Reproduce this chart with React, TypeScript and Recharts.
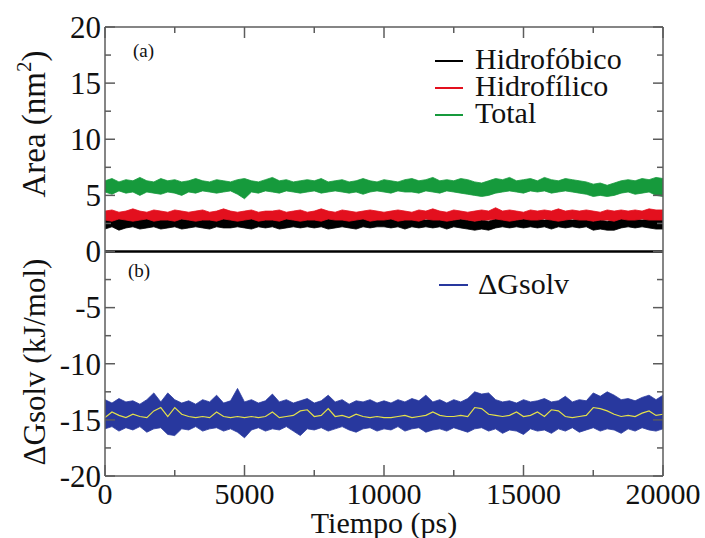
import React from 'react';
import { ComposedChart, Area, Line, XAxis, YAxis, ReferenceLine } from 'recharts';

const time = [0,250,500,750,1000,1250,1500,1750,2000,2250,2500,2750,3000,3250,3500,3750,4000,4250,4500,4750,5000,5250,5500,5750,6000,6250,6500,6750,7000,7250,7500,7750,8000,8250,8500,8750,9000,9250,9500,9750,10000,10250,10500,10750,11000,11250,11500,11750,12000,12250,12500,12750,13000,13250,13500,13750,14000,14250,14500,14750,15000,15250,15500,15750,16000,16250,16500,16750,17000,17250,17500,17750,18000,18250,18500,18750,19000,19250,19500,19750,20000];

const greenHi = [6.3,6.5,6.2,6.4,6.3,6.6,6.3,6.2,6.5,6.3, 6.4,6.2,6.3,6.5,6.3,6.2,6.4,6.3,6.2,6.4, 6.5,6.3,6.2,6.4,6.6,6.3,6.4,6.2,6.3,6.4, 6.3,6.5,6.2,6.3,6.4,6.2,6.3,6.5,6.3,6.2, 6.4,6.3,6.2,6.4,6.5,6.3,6.4,6.6,6.3,6.4, 6.3,6.5,6.4,6.2,6.1,6.3,6.5,6.4,6.6,6.3, 6.4,6.5,6.3,6.6,6.4,6.3,6.5,6.4,6.3,6.2, 6.0,6.1,5.9,6.1,6.3,6.4,6.3,6.5,6.4,6.6, 6.5];
const greenLo = [5.3,5.1,5.4,5.2,5.3,5.0,5.3,5.2,5.1,5.3, 5.2,5.0,5.3,5.2,5.4,5.3,5.2,5.3,5.4,5.1, 4.7,5.3,5.2,5.4,5.3,5.2,5.4,5.3,5.2,5.3, 5.4,5.2,5.3,5.4,5.3,5.2,5.3,5.1,5.3,5.4, 5.3,5.2,5.4,5.3,5.3,5.2,5.4,5.3,5.2,5.4, 5.3,5.2,5.1,5.0,4.9,5.0,5.2,5.3,5.4,5.3, 5.2,5.4,5.3,5.4,5.2,5.3,5.4,5.3,5.2,5.1, 4.9,5.0,4.9,5.0,5.2,5.3,5.1,5.2,5.3,5.0, 4.9];
const redHi = [3.6,3.7,3.5,3.6,3.8,3.6,3.5,3.7,3.6,3.5, 3.7,3.6,3.5,3.6,3.7,3.5,3.6,3.8,3.6,3.5, 3.6,3.7,3.5,3.6,3.6,3.7,3.5,3.6,3.7,3.5, 3.6,3.8,3.6,3.5,3.7,3.6,3.5,3.6,3.7,3.6, 3.5,3.6,3.7,3.6,3.5,3.7,3.6,3.8,3.6,3.5, 3.7,3.6,3.5,3.6,3.7,3.6,3.9,3.6,3.7,3.6, 3.5,3.7,3.6,3.7,3.6,3.8,3.6,3.7,3.6,3.7, 3.6,3.5,3.7,3.6,3.7,3.6,3.7,3.6,3.8,3.7, 3.7];
const redLo = [2.8,2.7,2.9,2.8,2.7,2.8,2.9,2.7,2.8,2.8, 2.7,2.9,2.8,2.7,2.8,2.8,2.7,2.9,2.8,2.7, 2.8,2.9,2.7,2.8,2.8,2.7,2.9,2.8,2.7,2.8, 2.8,2.7,2.9,2.8,2.8,2.7,2.8,2.9,2.7,2.8, 2.8,2.9,2.7,2.8,2.8,2.7,2.9,2.8,2.8,2.7, 2.8,2.9,2.8,2.7,2.8,2.8,2.9,2.8,2.7,2.8, 2.9,2.8,2.8,2.9,2.8,2.7,2.8,2.9,2.8,2.8, 2.7,2.8,2.8,2.7,2.9,2.8,2.8,2.9,2.8,2.8, 2.8];
const blackHi = [2.9,2.8,3.0,2.9,2.8,2.9,3.0,2.9,2.8,2.9, 3.0,2.9,2.8,2.9,3.0,2.8,2.9,2.9,3.0,2.8, 2.9,3.0,2.9,2.8,2.9,2.9,3.0,2.8,2.9,3.0, 2.9,2.8,2.9,3.0,2.9,2.8,2.9,3.0,2.9,2.8, 2.9,3.0,2.8,2.9,2.9,3.0,2.8,2.9,3.0,2.9, 2.8,2.9,2.8,2.7,2.8,2.7,2.9,3.0,2.9,2.8, 2.9,3.0,2.9,2.8,2.9,3.0,2.9,2.8,2.9,3.0, 2.7,2.8,2.7,2.8,2.9,3.0,2.9,2.8,2.9,2.8, 2.9];
const blackLo = [2.0,2.2,1.9,2.1,2.2,2.0,2.1,2.2,2.0,2.1, 2.2,2.0,2.1,2.2,2.1,2.0,2.2,2.1,2.1,2.2, 2.1,2.0,2.2,2.1,2.2,2.0,2.1,2.2,2.1,2.2, 2.1,2.2,2.0,2.1,2.2,2.1,2.0,2.2,2.1,2.2, 2.2,2.1,2.2,2.0,2.2,2.1,2.2,2.1,2.2,2.0, 2.2,2.1,2.0,1.9,2.0,1.9,2.1,2.2,2.1,2.2, 2.1,2.2,2.1,2.2,2.0,2.2,2.1,2.2,2.1,2.2, 1.9,2.0,1.9,1.9,2.1,2.2,2.1,2.2,2.1,2.0, 2.0];
const blueHi = [-13.2,-13.5,-13.1,-13.4,-13.3,-13.6,-13.2,-12.6,-13.4,-12.6, -13.2,-13.5,-13.3,-13.6,-13.2,-13.4,-12.8,-13.5,-13.3,-12.2, -13.4,-13.2,-13.5,-13.3,-12.7,-13.4,-13.2,-13.5,-13.3,-13.1, -13.5,-13.3,-12.8,-13.4,-13.2,-13.6,-13.3,-13.4,-13.2,-13.5, -13.3,-13.5,-13.2,-13.4,-13.1,-13.3,-12.8,-13.4,-13.2,-13.5, -13.2,-13.4,-13.1,-12.5,-12.7,-12.6,-13.2,-13.4,-13.3,-13.5, -13.2,-13.4,-13.3,-13.1,-13.4,-13.3,-12.9,-13.4,-13.2,-13.3, -12.6,-12.9,-12.5,-12.8,-13.2,-13.1,-13.3,-13.0,-12.8,-13.2, -12.8];
const blueLo = [-15.8,-15.6,-16.0,-15.7,-15.9,-15.6,-16.1,-15.8,-15.7,-16.3, -16.4,-15.8,-15.9,-15.6,-16.0,-15.8,-15.7,-16.0,-15.8,-16.1, -16.6,-15.9,-15.7,-16.0,-15.8,-15.9,-15.6,-16.0,-16.4,-15.8, -15.9,-15.7,-16.0,-15.8,-15.6,-15.9,-16.1,-15.8,-15.7,-16.0, -15.8,-15.9,-15.6,-16.0,-15.8,-15.7,-16.1,-15.9,-15.8,-16.0, -15.7,-15.9,-16.1,-15.8,-15.7,-16.0,-15.8,-16.2,-15.9,-16.0, -16.3,-15.8,-16.0,-15.9,-16.2,-15.8,-16.0,-15.7,-16.1,-15.9, -15.7,-16.0,-15.8,-15.9,-16.2,-15.8,-16.0,-15.7,-15.9,-16.0, -15.8];
const runningAvg = [-14.8,-14.3,-14.6,-14.8,-14.5,-14.7,-14.8,-14.2,-13.9,-14.7, -13.9,-14.5,-14.7,-14.8,-14.7,-14.8,-14.3,-14.7,-14.8,-14.7, -14.8,-14.7,-14.8,-14.7,-14.3,-14.8,-14.7,-14.6,-14.2,-14.1, -14.7,-14.6,-14.0,-14.7,-14.6,-14.8,-14.5,-14.7,-14.8,-14.7, -14.8,-14.8,-14.7,-14.6,-14.8,-14.7,-14.6,-14.3,-14.6,-14.7, -14.7,-14.6,-14.7,-13.9,-14.0,-14.5,-14.6,-14.7,-14.6,-14.3, -14.7,-14.6,-14.3,-14.7,-14.1,-14.2,-14.7,-14.8,-14.7,-14.6, -13.9,-14.0,-14.2,-14.5,-14.7,-14.6,-14.7,-14.4,-14.2,-14.6, -14.5];

const xTicks = [0,2500,5000,7500,10000,12500,15000,17500,20000];
const yTicks = [-20,-17.5,-15,-12.5,-10,-7.5,-5,-2.5,0,2.5,5,7.5,10,12.5,15,17.5,20];

const data = time.map((t, i) => ({
  t,
  black: [blackLo[i], blackHi[i]],
  red: [redLo[i], redHi[i]],
  green: [greenLo[i], greenHi[i]],
  blue: [blueLo[i], blueHi[i]],
  avg: runningAvg[i],
}));

const FRAME = '#5c5c5c';
const FONT = "'Liberation Serif', 'DejaVu Serif', serif";
const FS = { fontFamily: FONT };
const BLACK = '#000000';
const RED = '#e3101e';
const GREEN = '#169a3c';
const BLUE = '#28389e';
const YELLOW = '#e4e04a';

const isMajorY = (v: number) => Math.abs(v % 5) < 1e-9;
const isMajorX = (v: number) => v % 5000 === 0;

const LeftTick = (p: any) => {
  const v = p.payload.value;
  const major = isMajorY(v);
  return (
    <g>
      <line x1={p.x} x2={p.x + (major ? 10 : 6)} y1={p.y} y2={p.y} stroke={FRAME} strokeWidth={1.5} />
      {major && (
        <text x={p.x - 4} y={p.y} dy="0.35em" textAnchor="end" style={FS} fontSize={31} fill="#111">
          {String(v)}
        </text>
      )}
    </g>
  );
};

const RightTick = (p: any) => {
  const v = p.payload.value;
  const major = isMajorY(v);
  return <line x1={p.x} x2={p.x - (major ? 10 : 6)} y1={p.y} y2={p.y} stroke={FRAME} strokeWidth={1.5} />;
};

const BottomTick = (p: any) => {
  const v = p.payload.value;
  const major = isMajorX(v);
  return (
    <g>
      <line x1={p.x} x2={p.x} y1={p.y} y2={p.y - (major ? 11 : 6)} stroke={FRAME} strokeWidth={1.5} />
      {major && (
        <text x={p.x} y={p.y + 28} textAnchor="middle" style={FS} fontSize={30} fill="#111">
          {String(v)}
        </text>
      )}
    </g>
  );
};

const TopTick = (p: any) => {
  const v = p.payload.value;
  const major = isMajorX(v);
  return <line x1={p.x} x2={p.x} y1={p.y} y2={p.y + (major ? 11 : 6)} stroke={FRAME} strokeWidth={1.5} />;
};

export default function App() {
  return (
    <div style={{ position: 'absolute', left: 0, top: 0, width: 705, height: 538, background: '#fff' }}>
      <ComposedChart width={705} height={538} data={data} margin={{ top: 26, right: 41, bottom: 32, left: 45 }}>
        <XAxis
          dataKey="t" type="number" domain={[0, 20000]} ticks={xTicks} interval={0}
          allowDataOverflow height={30} tickSize={0} tickMargin={0}
          axisLine={{ stroke: FRAME, strokeWidth: 1.5 }} tickLine={false} tick={<BottomTick />}
        />
        <XAxis
          xAxisId="top" orientation="top" dataKey="t" type="number" domain={[0, 20000]} ticks={xTicks} interval={0}
          allowDataOverflow height={1} tickSize={0} tickMargin={0}
          axisLine={{ stroke: FRAME, strokeWidth: 1.5 }} tickLine={false} tick={<TopTick />}
        />
        <YAxis
          type="number" domain={[-20, 20]} ticks={yTicks} interval={0} allowDataOverflow
          width={60} tickSize={0} tickMargin={0}
          axisLine={{ stroke: FRAME, strokeWidth: 1.5 }} tickLine={false} tick={<LeftTick />}
        />
        <YAxis
          yAxisId="r" orientation="right" type="number" domain={[-20, 20]} ticks={yTicks} interval={0} allowDataOverflow
          width={1} tickSize={0} tickMargin={0}
          axisLine={{ stroke: FRAME, strokeWidth: 1.5 }} tickLine={false} tick={<RightTick />}
        />
        <Area type="linear" dataKey="black" stroke={BLACK} strokeWidth={0.8} fill={BLACK} fillOpacity={1} isAnimationActive={false} dot={false} activeDot={false} />
        <Area type="linear" dataKey="red" stroke={RED} strokeWidth={0.8} fill={RED} fillOpacity={1} isAnimationActive={false} dot={false} activeDot={false} />
        <Area type="linear" dataKey="green" stroke={GREEN} strokeWidth={0.8} fill={GREEN} fillOpacity={1} isAnimationActive={false} dot={false} activeDot={false} />
        <Area type="linear" dataKey="blue" stroke={BLUE} strokeWidth={0.8} fill={BLUE} fillOpacity={1} isAnimationActive={false} dot={false} activeDot={false} />
        <Line type="linear" dataKey="avg" stroke={YELLOW} strokeWidth={1.2} dot={false} activeDot={false} isAnimationActive={false} />
        <ReferenceLine y={0} stroke="#000" strokeWidth={2.5} />
      </ComposedChart>
      <svg width={705} height={538} style={{ position: 'absolute', left: 0, top: 0, pointerEvents: 'none' }}>
        <g style={FS} fill="#111">
          <text x={45} y={124} transform="rotate(-90 45 124)" textAnchor="middle" fontSize={33} style={FS}>
            <tspan>Area (nm</tspan>
            <tspan fontSize={21} dy={-14}>2</tspan>
            <tspan dy={14}>)</tspan>
          </text>
          <text x={45} y={362} transform="rotate(-90 45 362)" textAnchor="middle" fontSize={31} style={FS}>ΔGsolv (kJ/mol)</text>
          <text x={384} y={533} textAnchor="middle" fontSize={30} style={FS}>Tiempo (ps)</text>
          <text x={133} y={57} fontSize={19} style={FS}>(a)</text>
          <text x={128} y={277} fontSize={19} style={FS}>(b)</text>
          <line x1={435} x2={463} y1={61} y2={61} stroke={BLACK} strokeWidth={2} />
          <text x={475} y={69} fontSize={30} style={FS}>Hidrofóbico</text>
          <line x1={435} x2={463} y1={88} y2={88} stroke={RED} strokeWidth={2} />
          <text x={475} y={96} fontSize={30} style={FS}>Hidrofílico</text>
          <line x1={435} x2={463} y1={115} y2={115} stroke={GREEN} strokeWidth={2} />
          <text x={475} y={123} fontSize={30} style={FS}>Total</text>
          <line x1={439} x2={468} y1={285} y2={285} stroke={BLUE} strokeWidth={2} />
          <text x={478} y={294} fontSize={30} style={FS}>ΔGsolv</text>
        </g>
      </svg>
    </div>
  );
}
